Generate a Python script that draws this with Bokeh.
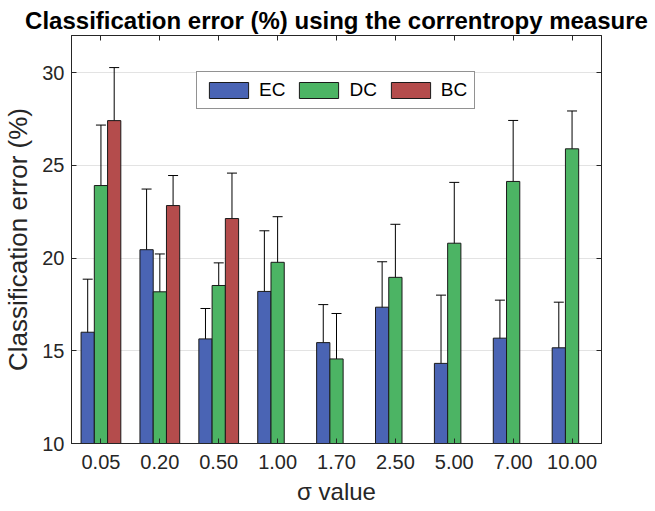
from bokeh.plotting import figure
from bokeh.models import (ColumnDataSource, Whisker, TeeHead, FixedTicker, LinearAxis,
                          Legend, LegendItem, Range1d)
from bokeh.embed import file_html
from bokeh.resources import INLINE
import math

categories = ["0.05", "0.20", "0.50", "1.00", "1.70", "2.50", "5.00", "7.00", "10.00"]
series = ["EC", "DC", "BC"]
ec_mean = [16.0, 20.45, 15.64, 18.2, 15.44, 17.35, 14.32, 15.68, 15.16]
ec_err = [2.86, 3.27, 1.64, 3.27, 2.05, 2.45, 3.68, 2.05, 2.46]
dc_mean = [23.91, 18.18, 18.52, 19.77, 14.56, 18.96, 20.8, 24.13, 25.89]
dc_err = [3.26, 2.04, 1.22, 2.46, 2.45, 2.86, 3.28, 3.29, 2.04]
bc_mean = [27.41, 22.83, 22.13, math.nan, math.nan, math.nan, math.nan, math.nan, math.nan]
bc_err = [2.86, 1.62, 2.45, math.nan, math.nan, math.nan, math.nan, math.nan, math.nan]
y_ticks = [10, 15, 20, 25, 30]

colors = ["#4a64b4", "#4cb464", "#b44c4c"]
bar_w = 0.225
offsets = [-bar_w, 0.0, bar_w]

p = figure(width=655, height=511, output_backend="svg", toolbar_location=None,
           x_range=Range1d(0.5, 9.5), y_range=Range1d(10, 32),
           min_border_left=69, min_border_right=54, min_border_top=35, min_border_bottom=68,
           title="Classification error (%) using the correntropy measure")
p.title.text_font = "Liberation Sans"
p.title.text_font_size = "24px"
p.title.text_font_style = "bold"
p.title.align = "center"
p.title.text_color = "#000000"
p.title.offset = 0
p.title.standoff = 4
p.outline_line_color = "#262626"
p.outline_line_width = 1
p.background_fill_color = "white"
p.border_fill_color = "white"

tick_font = "Liberation Sans"
xt = FixedTicker(ticks=list(range(1, len(categories) + 1)))
yt = FixedTicker(ticks=y_ticks)

p.xaxis.ticker = xt
p.xaxis.major_label_overrides = {i + 1: c for i, c in enumerate(categories)}
p.yaxis.ticker = yt
for ax in (p.xaxis[0], p.yaxis[0]):
    ax.major_tick_in = 5
    ax.major_tick_out = 0
    ax.minor_tick_line_color = None
    ax.axis_line_color = "#262626"
    ax.major_tick_line_color = "#262626"
    ax.major_label_text_font = tick_font
    ax.major_label_text_font_size = "20px"
    ax.major_label_text_color = "#262626"
    ax.axis_label_text_font = "Liberation Sans"
    ax.axis_label_text_font_style = "normal"
    ax.axis_label_text_color = "#262626"
p.xaxis.axis_label = "σ value"
p.xaxis.axis_label_text_font_size = "24px"
p.xaxis.axis_label_standoff = 6
p.xaxis.major_label_standoff = 11
p.yaxis.axis_label = "Classification error (%)"
p.yaxis.axis_label_text_font_size = "26px"
p.yaxis.axis_label_standoff = 6
p.yaxis.major_label_standoff = 7

top_ax = LinearAxis(ticker=xt, major_tick_in=5, major_tick_out=0,
                    minor_tick_line_color=None, major_label_text_font_size="1px",
                    major_label_text_color=None,
                    axis_line_color="#262626", major_tick_line_color="#262626",
                    major_label_standoff=0)
right_ax = LinearAxis(ticker=yt, major_tick_in=5, major_tick_out=0,
                      minor_tick_line_color=None, major_label_text_font_size="1px",
                      major_label_text_color=None,
                      axis_line_color="#262626", major_tick_line_color="#262626",
                      major_label_standoff=0)
p.add_layout(top_ax, "above")
p.add_layout(right_ax, "right")

p.xgrid.grid_line_color = None
p.ygrid.ticker = yt
p.ygrid.grid_line_color = "#e3e3e3"
p.ygrid.grid_line_width = 1

means = [ec_mean, dc_mean, bc_mean]
errs = [ec_err, dc_err, bc_err]
items = []
for s, name in enumerate(series):
    xs, tops, ups, los = [], [], [], []
    for i in range(len(categories)):
        m = means[s][i]
        if m is None or (isinstance(m, float) and math.isnan(m)):
            continue
        xs.append(i + 1 + offsets[s])
        tops.append(m)
        ups.append(m + errs[s][i])
        los.append(m - errs[s][i])
    src = ColumnDataSource(dict(x=xs, top=tops, upper=ups, lower=los))
    r = p.vbar(x="x", top="top", bottom=0, width=bar_w, source=src,
               fill_color=colors[s], line_color="#1a1a1a", line_width=1)
    items.append(LegendItem(label=name, renderers=[r]))
    w = Whisker(base="x", upper="upper", lower="lower", source=src, dimension="height",
                line_color="black", line_width=1,
                upper_head=TeeHead(size=10, line_color="black", line_width=1),
                lower_head=TeeHead(size=10, line_color="black", line_width=1))
    p.add_layout(w)

legend = Legend(items=items, orientation="horizontal", location=(125, 334),
                glyph_width=49, glyph_height=20, label_standoff=6, spacing=9,
                padding=7, margin=0, label_height=20, label_text_font=tick_font,
                label_text_font_size="19px", label_text_baseline="middle",
                label_text_color="#000000", border_line_color="#262626",
                border_line_width=1, background_fill_alpha=1.0)
p.add_layout(legend, "center")

open("out.html", "w").write(file_html(p, INLINE))
